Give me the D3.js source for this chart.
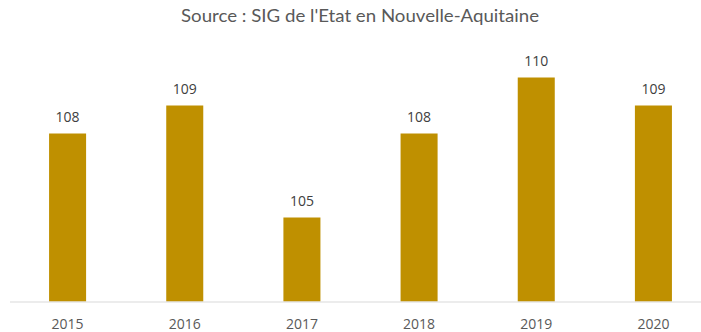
<!DOCTYPE html>
<html>
<head>
<meta charset="utf-8">
<script src="https://cdn.jsdelivr.net/npm/d3@7"></script>
<style>
  html, body { margin: 0; padding: 0; background: #fff; }
  svg { display: block; }
</style>
</head>
<body>
<svg id="chart" width="701" height="332"></svg>
<script>
// Yearly values
const years = ["2015", "2016", "2017", "2018", "2019", "2020"];
const values = [108, 109, 105, 108, 110, 109];
const yDomain = [102, 112];
const subtitle = "Source : SIG de l'Etat en Nouvelle-Aquitaine";

const svg = d3.select("#chart");
const W = 701, H = 332;
const baseY = 301.5;

const x = d3.scaleBand()
  .domain(years)
  .range([9, 712])
  .paddingInner(0.684)
  .paddingOuter(0.342);

const y = d3.scaleLinear()
  .domain(yDomain)
  .range([baseY, 21.5]);

// Subtitle
svg.append("text")
  .attr("x", 360)
  .attr("y", 21.5)
  .attr("text-anchor", "middle")
  .attr("textLength", 358)
  .attr("lengthAdjust", "spacingAndGlyphs")
  .attr("fill", "#595959")
  .style("font-family", "Lato, 'Open Sans', sans-serif")
  .style("font-size", "17px")
  .text(subtitle);

// Bars
svg.append("g")
  .selectAll("rect")
  .data(values)
  .join("rect")
  .attr("x", (d, i) => x(years[i]))
  .attr("width", x.bandwidth())
  .attr("y", d => y(d))
  .attr("height", d => baseY - y(d))
  .attr("fill", "#BF9000");

// Value labels
svg.append("g")
  .selectAll("text")
  .data(values)
  .join("text")
  .attr("x", (d, i) => x(years[i]) + x.bandwidth() / 2)
  .attr("y", d => y(d) - 12)
  .attr("text-anchor", "middle")
  .attr("fill", "#404040")
  .style("font-family", "'Open Sans', 'Liberation Sans', sans-serif")
  .style("font-size", "14px")
  .text(d => d);

// Category axis
const xAxis = svg.append("g")
  .attr("transform", `translate(0,${baseY + 0.5})`)
  .call(d3.axisBottom(x).tickSize(0).tickPadding(17));
xAxis.select(".domain")
  .attr("d", `M10,0H${W}`)
  .attr("stroke", "#d9d9d9")
  .attr("stroke-width", 1.2);
xAxis.selectAll("text")
  .attr("fill", "#595959")
  .style("font-family", "'Open Sans', 'Liberation Sans', sans-serif")
  .style("font-size", "14px");
</script>
</body>
</html>
